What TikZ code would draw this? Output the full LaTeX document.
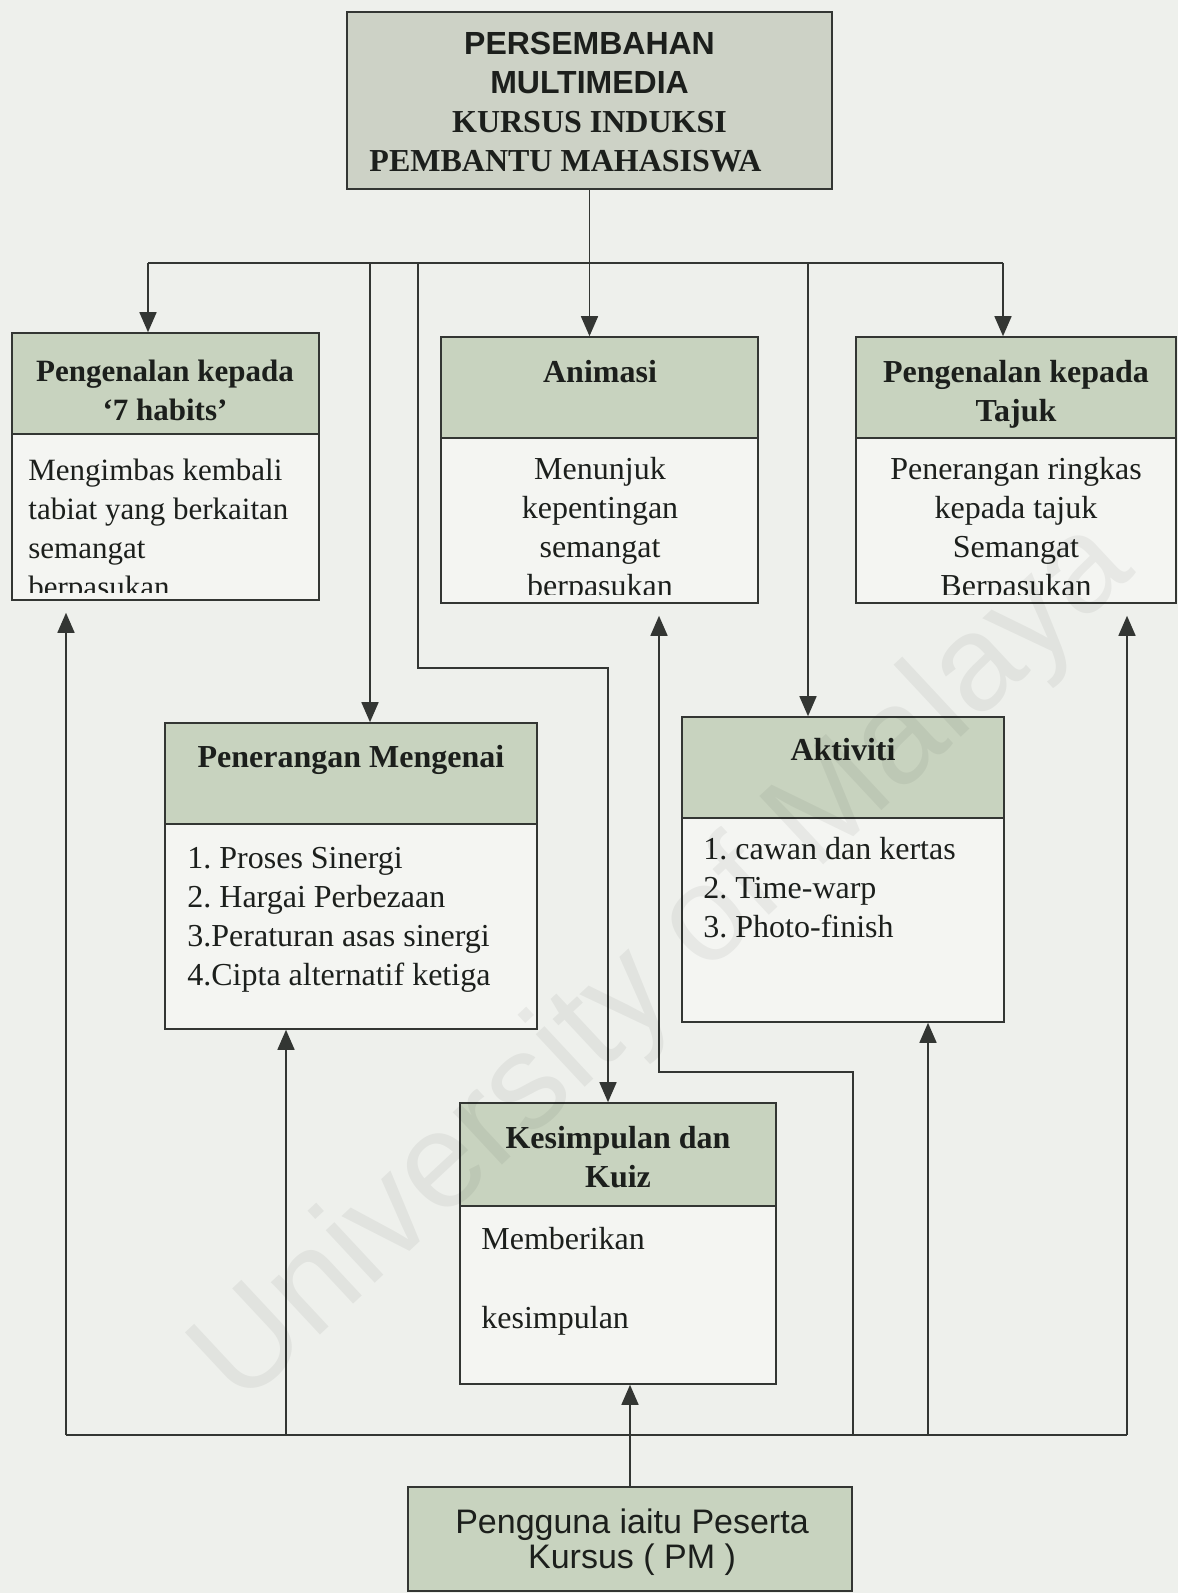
\documentclass[tikz,border=0pt]{standalone}
\usepackage{fontspec}
\setmainfont{Liberation Serif}
\setsansfont{Liberation Sans}
\usetikzlibrary{arrows.meta,fit,calc}

\definecolor{paper}{HTML}{EEF0EC}
\definecolor{hdrfill}{HTML}{C8D3BF}
\definecolor{topfill}{HTML}{CDD2C6}
\definecolor{bodyfill}{HTML}{F4F5F2}
\definecolor{edge}{HTML}{333633}
\definecolor{inkc}{HTML}{1C1F1C}

\begin{document}
\frenchspacing
\begin{tikzpicture}[x=0.5pt,y=-0.5pt,
  boxline/.style={draw=edge,line width=0.8pt,inner sep=0pt},
  hdr/.style={boxline,fill=hdrfill},
  bodybox/.style={boxline,fill=bodyfill},
  title/.style={anchor=north,inner sep=0pt,align=center,text=inkc,
    font=\fontsize{16}{19.5}\selectfont\bfseries},
  bodytext/.style={anchor=north west,inner sep=0pt,align=left,text=inkc,
    font=\fontsize{16}{19.5}\selectfont},
  bodymid/.style={bodytext,anchor=north,align=center},
  link/.style={draw=edge,line width=0.8pt},
  arr/.style={link,-{Triangle[width=8.5pt,length=10pt]}},
  gap/.style={shorten >=6pt}
]
\clip (0,0) rectangle (1178,1593);
\fill[paper] (0,0) rectangle (1178,1593);

% ---------- title box ----------
\node[boxline,fill=topfill,fit={(347,12) (832,189)}] (top) {};
\node[inner sep=0pt,align=center,text=inkc,font=\fontsize{16}{19.5}\selectfont\bfseries]
  (toptext) at ($(top.center)+(0,2)$)
  {\textsf{PERSEMBAHAN}\\ \textsf{MULTIMEDIA}\\ KURSUS INDUKSI\\ PEMBANTU MAHASISWA\hspace*{24pt}};

% ---------- first row ----------
% Pengenalan kepada '7 habits'
\node[hdr,fit={(12,333) (319,434)}] (Lh) {};
\node[bodybox,fit={(12,434) (319,600)}] (Lb) {};
\node[title,font=\fontsize{15.5}{19.5}\selectfont\bfseries] (Lt) at (165,360) {Pengenalan kepada\\`7 habits'};
\begin{scope}
  \clip (12,434) rectangle (319,592);
  \node[bodytext,font=\fontsize{15.5}{19.5}\selectfont] (Lx) at (28,459)
    {Mengimbas kembali\\tabiat yang berkaitan\\semangat\\berpasukan};
\end{scope}

% Animasi
\node[hdr,fit={(441,337) (758,438)}] (Ah) {};
\node[bodybox,fit={(441,438) (758,603)}] (Ab) {};
\node[title] (At) at (600,360) {Animasi};
\begin{scope}
  \clip (441,438) rectangle (758,594);
  \node[bodymid] (Ax) at (600,457)
    {Menunjuk\\kepentingan\\semangat\\berpasukan};
\end{scope}

% Pengenalan kepada Tajuk
\node[hdr,fit={(856,337) (1176,438)}] (Jh) {};
\node[bodybox,fit={(856,438) (1176,603)}] (Jb) {};
\node[title] (Jt) at (1016,360) {Pengenalan kepada\\Tajuk};
\begin{scope}
  \clip (856,438) rectangle (1176,594);
  \node[bodymid] (Jx) at (1016,457)
    {Penerangan ringkas\\kepada tajuk\\Semangat\\Berpasukan};
\end{scope}

% ---------- second row ----------
% Penerangan Mengenai
\node[hdr,fit={(165,723) (537,824)}] (Ph) {};
\node[bodybox,fit={(165,824) (537,1029)}] (Pb) {};
\node[title] (Pt) at (351,745) {Penerangan Mengenai};
\node[bodytext] (Px) at (187,847)
  {1. Proses Sinergi\\2. Hargai Perbezaan\\3.Peraturan asas sinergi\\4.Cipta alternatif ketiga};

% Aktiviti
\node[hdr,fit={(682,717) (1004,818)}] (Kh) {};
\node[bodybox,fit={(682,818) (1004,1022)}] (Kb) {};
\node[title] (Kt) at (843,738) {Aktiviti};
\node[bodytext] (Kx) at (703,837)
  {1. cawan dan kertas\\2. Time-warp\\3. Photo-finish};

% ---------- third row ----------
% Kesimpulan dan Kuiz
\node[hdr,fit={(460,1103) (776,1206)}] (Zh) {};
\node[bodybox,fit={(460,1206) (776,1384)}] (Zb) {};
\node[title] (Zt) at (618,1126) {Kesimpulan dan\\Kuiz};
\node[bodytext] (Zx) at (481,1227) {Memberikan\\[20pt]kesimpulan};

% ---------- user box ----------
\node[boxline,fill=hdrfill,fit={(408,1487) (852,1591)}] (user) {};
\node[inner sep=0pt,align=center,text=inkc,font=\sffamily\fontsize{17}{17.5}\selectfont]
  (usertext) at ($(user.center)+(2,3)$) {Pengguna iaitu Peserta\\Kursus ( PM )};

% ---------- distribution from the title box ----------
\coordinate (busW) at (148,263);
\coordinate (busE) at (1003,263);
\coordinate (dP) at (370,263);
\coordinate (dZ) at (418,263);
\coordinate (zBend) at (608,668);
\coordinate (dK) at (808,263);

\draw[link] (busW) -- (busE);
\draw[arr] (top.south) -- (top.south |- Ah.north);
\draw[arr] (busW) -- (busW |- Lh.north);
\draw[arr] (dP) -- (dP |- Ph.north);
\draw[arr] (dZ) |- (zBend) -- (zBend |- Zh.north);
\draw[arr] (dK) -- (dK |- Kh.north);
\draw[arr] (busE) -- (busE |- Jh.north);

% ---------- feedback from the user ----------
\coordinate (fbW) at (66,1435);
\coordinate (fbE) at (1127,1435);
\coordinate (uP) at (286,1435);
\coordinate (uA) at (853,1435);
\coordinate (aBend) at (659,1072);
\coordinate (uK) at (928,1435);

\draw[arr] (user.north) -- (user.north |- Zb.south);
\draw[link] (fbW) -- (fbE);
\draw[arr,gap] (fbW) -- (fbW |- Lb.south);
\draw[arr] (uP) -- (uP |- Pb.south);
\draw[arr,gap] (uA) |- (aBend) -- (aBend |- Ab.south);
\draw[arr] (uK) -- (uK |- Kb.south);
\draw[arr,gap] (fbE) -- (fbE |- Jb.south);

% ---------- watermark ----------
\node[rotate=43,text=black,text opacity=0.05,inner sep=0pt,
  font=\sffamily\fontsize{68}{68}\selectfont] (mark) at (665,965) {University of Malaya};
\end{tikzpicture}
\end{document}
